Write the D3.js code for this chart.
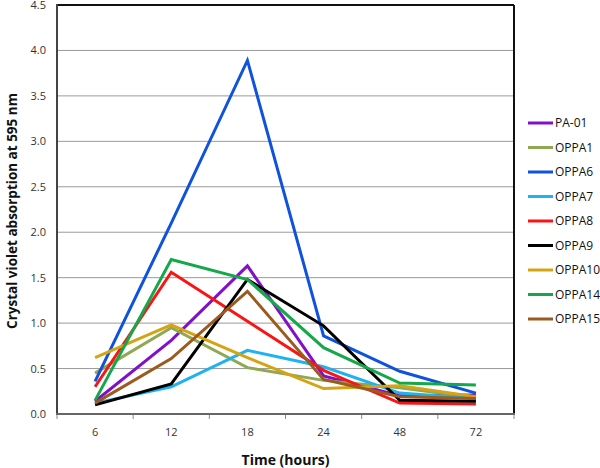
<!DOCTYPE html>
<html><head><meta charset="utf-8">
<script src="https://cdn.jsdelivr.net/npm/d3@7"></script>
<style>body{margin:0;background:#fff}svg{display:block}</style>
</head><body><svg id="c" width="600" height="468"></svg>
<script>
const categories = ["6","12","18","24","48","72"];
const yTicks = [0,0.5,1,1.5,2,2.5,3,3.5,4,4.5];
const seriesNames = ["PA-01","OPPA1","OPPA6","OPPA7","OPPA8","OPPA9","OPPA10","OPPA14","OPPA15"];
const seriesColors = ["#8210c8","#8fa852","#0f52de","#1eb2f0","#fa1414","#000000","#d4a412","#14a84a","#9c5a1e"];
const PA01   = [0.14,0.81,1.63,0.42,0.20,0.21];
const OPPA1  = [0.45,0.95,0.51,0.37,0.29,0.18];
const OPPA6  = [0.36,2.10,3.89,0.86,0.47,0.23];
const OPPA7  = [0.12,0.30,0.70,0.52,0.23,0.17];
const OPPA8  = [0.30,1.56,1.02,0.48,0.12,0.11];
const OPPA9  = [0.10,0.33,1.48,0.97,0.15,0.14];
const OPPA10 = [0.62,0.98,0.62,0.28,0.31,0.19];
const OPPA14 = [0.15,1.70,1.48,0.73,0.34,0.32];
const OPPA15 = [0.12,0.61,1.35,0.38,0.19,0.17];
const seriesValues = [PA01,OPPA1,OPPA6,OPPA7,OPPA8,OPPA9,OPPA10,OPPA14,OPPA15];

const svg = d3.select("#c");
const L=57,R=514,T=5,B=414;
const x = d3.scaleBand().domain(categories).range([L,R]).padding(0);
const y = d3.scaleLinear().domain([0,4.5]).range([B,T]);
const font = "'Open Sans', 'DejaVu Sans', sans-serif";

// gridlines
svg.append("g").selectAll("line").data(yTicks.filter(d=>d>0)).join("line")
  .attr("x1",L).attr("x2",R).attr("y1",d=>y(d)).attr("y2",d=>y(d))
  .attr("stroke","#9a9a9a").attr("stroke-width",1);

// y axis
const ya = svg.append("g").attr("transform",`translate(${L},0)`)
  .call(d3.axisLeft(y).tickValues(yTicks).tickFormat(d3.format(".1f")).tickSize(0).tickPadding(11));
ya.select(".domain").remove();
ya.selectAll("text").attr("font-family",font).attr("font-size",11).attr("fill","#333");

// x axis
const xa = svg.append("g").attr("transform",`translate(0,${B})`)
  .call(d3.axisBottom(x).tickSize(0).tickPadding(14));
xa.select(".domain").remove();
xa.selectAll("text").attr("font-family",font).attr("font-size",11).attr("fill","#333");
// category boundary ticks
const bounds = categories.map(c=>x(c)).concat([R]);
svg.append("g").selectAll("line").data(bounds).join("line")
  .attr("x1",d=>d).attr("x2",d=>d).attr("y1",B).attr("y2",B+5)
  .attr("stroke","#888").attr("stroke-width",1);

// frame
svg.append("line").attr("x1",L).attr("x2",R).attr("y1",T).attr("y2",T).attr("stroke","#111").attr("stroke-width",2);
svg.append("line").attr("x1",R).attr("x2",R).attr("y1",T).attr("y2",B).attr("stroke","#111").attr("stroke-width",2);
svg.append("line").attr("x1",L).attr("x2",L).attr("y1",T-1).attr("y2",B+1).attr("stroke","#444").attr("stroke-width",2);
svg.append("line").attr("x1",L-1).attr("x2",R+1).attr("y1",B).attr("y2",B).attr("stroke","#666").attr("stroke-width",2);

// lines
const line = d3.line().x((d,i)=>x(categories[i])+x.bandwidth()/2).y(d=>y(d));
svg.append("g").selectAll("path").data(seriesValues).join("path")
  .attr("d",d=>line(d)).attr("fill","none")
  .attr("stroke",(d,i)=>seriesColors[i]).attr("stroke-width",3).attr("stroke-linejoin","miter");

// legend
const lg = svg.append("g").attr("transform","translate(528,123)");
const items = lg.selectAll("g").data(seriesNames).join("g").attr("transform",(d,i)=>`translate(0,${i*24.5})`);
items.append("line").attr("x1",0).attr("x2",25).attr("y1",0).attr("y2",0)
  .attr("stroke",(d,i)=>seriesColors[i]).attr("stroke-width",3);
items.append("text").attr("x",27).attr("y",0).attr("dy","0.35em").text(d=>d)
  .attr("font-family",font).attr("font-size",12).attr("fill","#111");

// axis titles
svg.append("text").attr("x",(L+R)/2).attr("y",465).attr("text-anchor","middle")
  .attr("font-family",font).attr("font-size",14).attr("font-weight","bold").attr("fill","#111").text("Time (hours)");
svg.append("text").attr("transform","translate(17,211) rotate(-90)").attr("text-anchor","middle")
  .attr("font-family",font).attr("font-size",13.5).attr("font-weight","bold").attr("fill","#111")
  .text("Crystal violet absorption at 595 nm");
</script></body></html>
